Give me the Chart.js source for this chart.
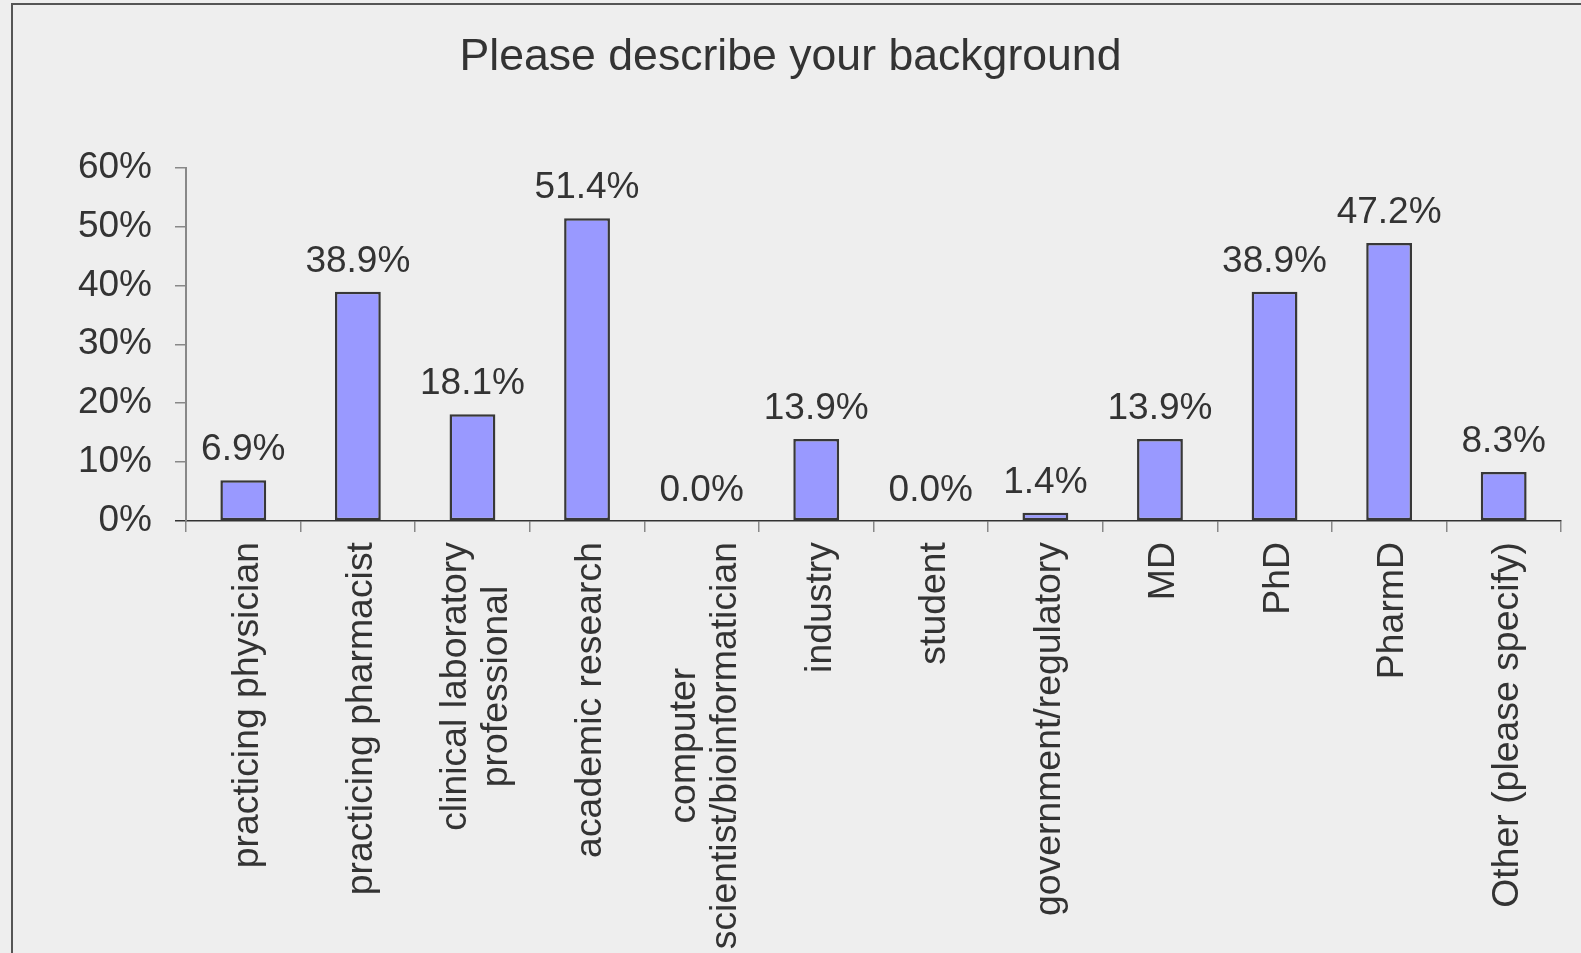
<!DOCTYPE html>
<html>
<head>
<meta charset="utf-8">
<script src="https://cdn.jsdelivr.net/npm/chart.js@4/dist/chart.umd.min.js"></script>
<style>
  html, body { margin: 0; padding: 0; background: #eeeeee; overflow: hidden; }
  #wrap { position: relative; width: 1581px; height: 953px; }
  #frame { position: absolute; left: 11px; top: 3px; width: 1600px; height: 1000px;
           border-left: 2px solid #555; border-top: 2px solid #555; pointer-events: none; }
  canvas { display: block; }
</style>
</head>
<body>
<div id="wrap">
  <canvas id="c" width="1581" height="953"></canvas>
  <div id="frame"></div>
</div>
<script>
const titleText = "Please describe your background";
const categories = [
  ["practicing physician"],
  ["practicing pharmacist"],
  ["clinical laboratory", "professional"],
  ["academic research"],
  ["computer", "scientist/bioinformatician"],
  ["industry"],
  ["student"],
  ["government/regulatory"],
  ["MD"],
  ["PhD"],
  ["PharmD"],
  ["Other (please specify)"]
];
const percentValues = [6.9, 38.9, 18.1, 51.4, 0.0, 13.9, 0.0, 1.4, 13.9, 38.9, 47.2, 8.3];
const yTickValues = [0, 10, 20, 30, 40, 50, 60];

const FONT = "'Liberation Sans', Arial, sans-serif";
const TEXT = '#333333';

const valueLabels = {
  id: 'valueLabels',
  afterDatasetsDraw(chart) {
    const ctx = chart.ctx;
    const meta = chart.getDatasetMeta(0);
    ctx.save();
    ctx.font = '37px ' + FONT;
    ctx.fillStyle = TEXT;
    ctx.textAlign = 'center';
    ctx.textBaseline = 'alphabetic';
    meta.data.forEach((bar, i) => {
      const v = percentValues[i];
      ctx.fillText(v.toFixed(1) + '%', bar.x, bar.y - 20);
    });
    ctx.restore();
  }
};

const categoryLabels = {
  id: 'categoryLabels',
  afterDraw(chart) {
    const ctx = chart.ctx;
    const xs = chart.scales.x;
    const top = chart.chartArea.bottom + 21;
    const lineH = 41;
    ctx.save();
    ctx.font = '37.4px ' + FONT;
    ctx.fillStyle = TEXT;
    ctx.textAlign = 'center';
    ctx.textBaseline = 'middle';
    categories.forEach((lines, i) => {
      const x = xs.getPixelForValue(i) + 4;
      const maxW = Math.max(...lines.map(l => ctx.measureText(l).width));
      ctx.save();
      ctx.translate(x, top);
      ctx.rotate(-Math.PI / 2);
      const n = lines.length;
      lines.forEach((l, j) => {
        const off = (j - (n - 1) / 2) * lineH;
        ctx.fillText(l, -maxW / 2, off);
      });
      ctx.restore();
    });
    ctx.restore();
  }
};

new Chart(document.getElementById('c'), {
  type: 'bar',
  data: {
    labels: categories.map(c => c.join(' ')),
    datasets: [{
      data: percentValues,
      backgroundColor: '#9999ff',
      borderColor: '#383838',
      borderWidth: 2.5,
      borderSkipped: false,
      categoryPercentage: 1.0,
      barPercentage: 0.4
    }]
  },
  options: {
    responsive: false,
    animation: false,
    events: [],
    layout: { padding: { left: 20, right: 20, top: 0, bottom: 0 } },
    plugins: {
      legend: { display: false },
      tooltip: { enabled: false },
      title: {
        display: true,
        text: titleText,
        color: TEXT,
        font: { family: FONT, size: 44.6, weight: 'normal', lineHeight: 1.2 },
        padding: { top: 31, bottom: 83 }
      }
    },
    scales: {
      x: {
        offset: true,
        grid: {
          display: true, offset: true, drawOnChartArea: false, drawTicks: true,
          tickLength: 11, color: '#888888', lineWidth: 1.5
        },
        border: { display: true, color: '#333333', width: 1.5 },
        ticks: { display: false },
        afterFit(scale) { scale.height = 432; }
      },
      y: {
        min: 0, max: 60,
        afterBuildTicks(scale) { scale.ticks = yTickValues.map(v => ({ value: v })); },
        grid: {
          display: true, drawOnChartArea: false, drawTicks: true, tickLength: 11,
          color: ctx => (ctx.tick && ctx.tick.value === 0) ? '#333333' : '#888888',
          lineWidth: 1.5
        },
        border: { display: true, color: '#888888', width: 2 },
        ticks: {
          color: TEXT,
          font: { family: FONT, size: 37 },
          padding: 23,
          callback: v => v + '%'
        },
        afterFit(scale) { scale.width = 166; }
      }
    }
  },
  plugins: [valueLabels, categoryLabels]
});
</script>
</body>
</html>
